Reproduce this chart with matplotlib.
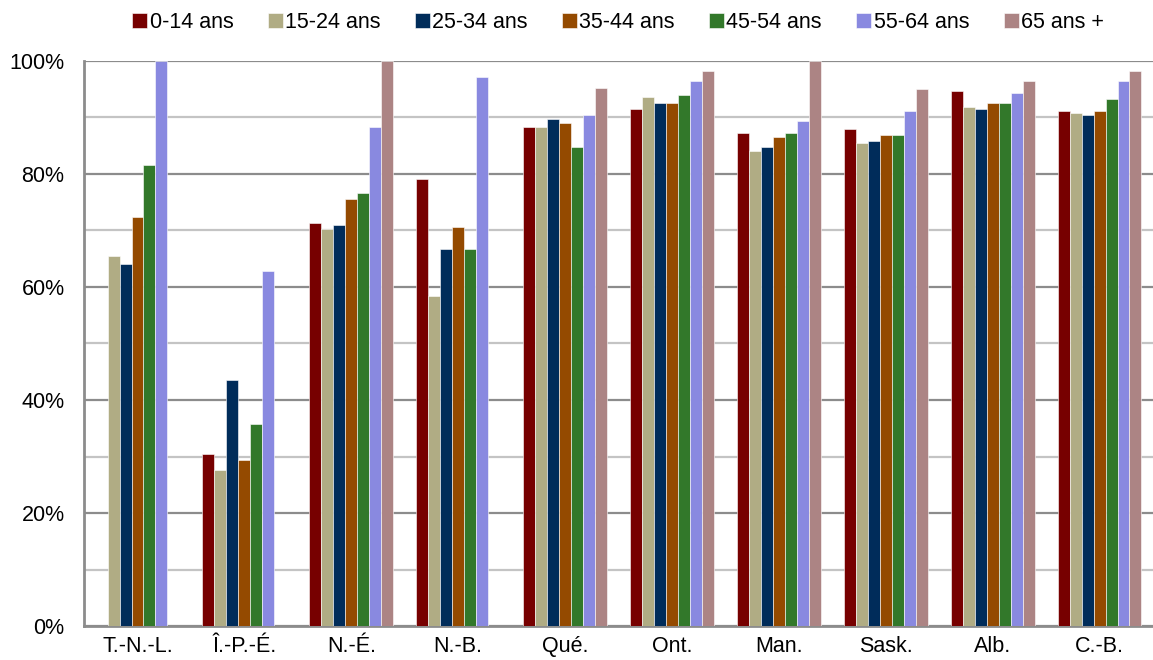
import matplotlib
matplotlib.use('Agg')
import matplotlib.pyplot as plt
import numpy as np

plt.rcParams['font.family'] = ['Liberation Sans', 'DejaVu Sans']

# Données
provinces = ['T.-N.-L.', 'Î.-P.-É.', 'N.-É.', 'N.-B.', 'Qué.', 'Ont.', 'Man.', 'Sask.', 'Alb.', 'C.-B.']
groupes = ['0-14 ans', '15-24 ans', '25-34 ans', '35-44 ans', '45-54 ans', '55-64 ans', '65 ans +']
couleurs = ['#770000', '#B0AC84', '#002C5A', '#944A00', '#32782A', '#8989E0', '#AC8484']

v_0_14 = [np.nan, 30.4, 71.4, 79.1, 88.3, 91.5, 87.3, 88.0, 94.7, 91.2]
v_15_24 = [65.4, 27.6, 70.3, 58.4, 88.3, 93.6, 84.1, 85.5, 91.9, 90.8]
v_25_34 = [64.0, 43.5, 71.0, 66.8, 89.7, 92.5, 84.8, 85.8, 91.5, 90.4]
v_35_44 = [72.4, 29.4, 75.6, 70.6, 89.0, 92.5, 86.5, 86.9, 92.5, 91.2]
v_45_54 = [81.6, 35.7, 76.7, 66.8, 84.8, 93.9, 87.3, 86.9, 92.5, 93.3]
v_55_64 = [100.0, 62.9, 88.3, 97.1, 90.4, 96.5, 89.4, 91.2, 94.3, 96.5]
v_65 = [np.nan, np.nan, 100.0, np.nan, 95.3, 98.2, 100.0, 95.0, 96.5, 98.2]
series = [v_0_14, v_15_24, v_25_34, v_35_44, v_45_54, v_55_64, v_65]

fig = plt.figure(figsize=(11.53, 6.6), dpi=100)
ax = fig.add_axes([0.0729, 0.0515, 0.9271, 0.8561])

x = np.arange(len(provinces))
w = 0.112
for i, (vals, c, lab) in enumerate(zip(series, couleurs, groupes)):
    ax.bar(x + (i - 3) * w, vals, w, color=c, label=lab, edgecolor='#ffffff', linewidth=0.4, zorder=3)

ax.set_xlim(-0.5, 9.5)
ax.set_ylim(0, 100)
ax.set_yticks(np.arange(0, 101, 20))
ax.set_yticklabels([f'{v}%' for v in range(0, 101, 20)])
ax.set_yticks(np.arange(10, 100, 20), minor=True)
ax.set_xticks(x)
ax.set_xticklabels(provinces)
ax.tick_params(axis='both', which='both', length=0, labelsize=15.5)
ax.tick_params(axis='y', pad=14)
ax.tick_params(axis='x', pad=7)

ax.grid(axis='y', which='major', color='#8c8c8c', linewidth=1.6, zorder=0)
ax.grid(axis='y', which='minor', color='#c4c4c4', linewidth=1.6, zorder=0)
for s in ['top', 'right']:
    ax.spines[s].set_visible(False)
for s in ['left', 'bottom']:
    ax.spines[s].set_color('#8c8c8c')
    ax.spines[s].set_linewidth(2)

fig.legend(loc='center', bbox_to_anchor=(0.536, 0.966), ncol=7, frameon=False,
           fontsize=15.5, handlelength=0.7, handleheight=0.7, handletextpad=0.1,
           columnspacing=1.6)

fig.savefig('out.png', dpi=100)
